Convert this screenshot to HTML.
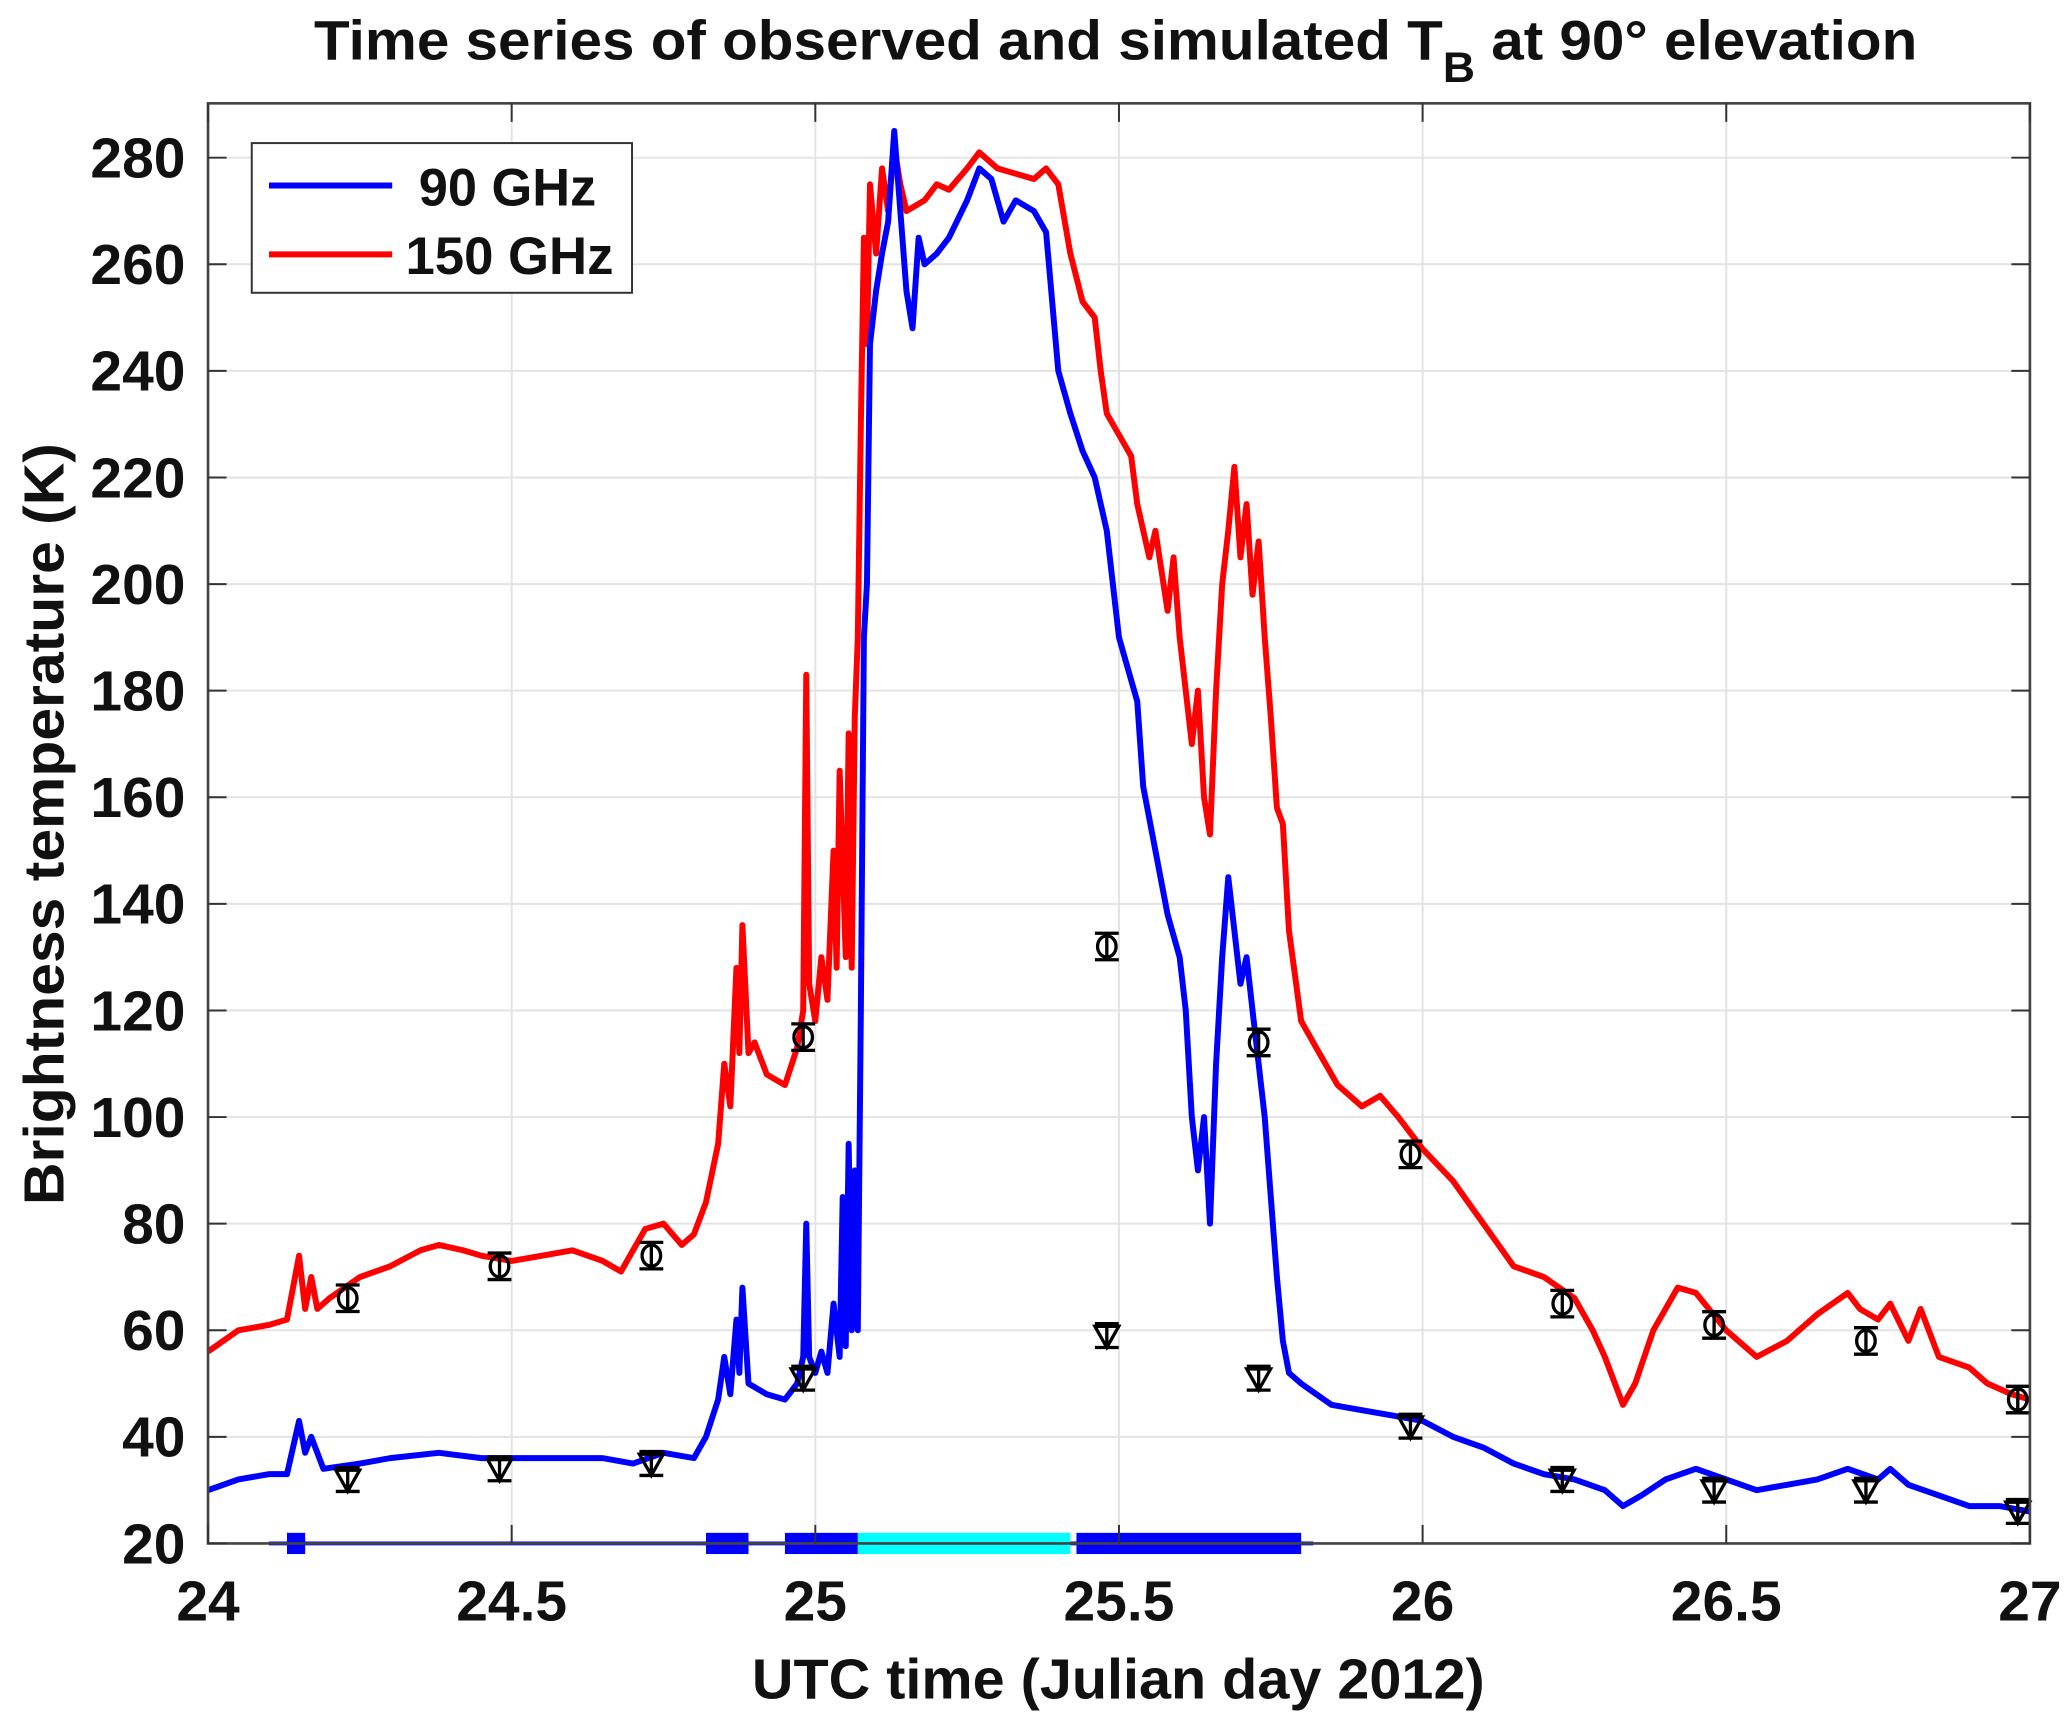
<!DOCTYPE html>
<html><head><meta charset="utf-8"><style>
html,body{margin:0;padding:0;background:#fff;}
svg{display:block;}
text{font-family:"Liberation Sans",Arial,sans-serif;font-weight:bold;fill:#111;}
</style></head><body>
<svg id="chart" width="2067" height="1717" viewBox="0 0 1560 1296" preserveAspectRatio="none" xmlns="http://www.w3.org/2000/svg">
<g id="grid"></g>
<g id="bars"></g>
<g id="lines"></g>
<g id="markers"></g>
<rect x="157" y="78" width="1375" height="1087" fill="none" stroke="#444" stroke-width="2"/>
<g id="ticks"></g>
<text x="842" y="45" text-anchor="middle" font-size="42" textLength="1210" lengthAdjust="spacingAndGlyphs">Time series of observed and simulated T<tspan font-size="32" dy="17">B</tspan><tspan dy="-17"> at 90° elevation</tspan></text>
<text x="844" y="1282" text-anchor="middle" font-size="43" textLength="553" lengthAdjust="spacingAndGlyphs">UTC time (Julian day 2012)</text>
<text transform="translate(48,622) rotate(-90)" text-anchor="middle" font-size="43" textLength="575" lengthAdjust="spacingAndGlyphs">Brightness  temperature (K)</text>
<g>
<rect x="190" y="108" width="287" height="113" fill="#fff" stroke="#333" stroke-width="1.5"/>
<line x1="203" y1="140" x2="296" y2="140" stroke="#0000ff" stroke-width="4.5"/>
<text x="316" y="155" font-size="40" textLength="134" lengthAdjust="spacingAndGlyphs">90 GHz</text>
<line x1="203" y1="192" x2="296" y2="192" stroke="#ff0000" stroke-width="4.5"/>
<text x="306" y="207" font-size="40" textLength="157" lengthAdjust="spacingAndGlyphs">150 GHz</text>
</g>
</svg>
<script>
const xTicks=[24,24.5,25,25.5,26,26.5,27];
const xTickLabels=["24","24.5","25","25.5","26","26.5","27"];
const yTicks=[20,40,60,80,100,120,140,160,180,200,220,240,260,280];
const t150=[24.00,24.05,24.10,24.13,24.15,24.16,24.17,24.18,24.2,24.25,24.3,24.35,24.38,24.42,24.45,24.5,24.55,24.6,24.65,24.68,24.7,24.72,24.75,24.78,24.8,24.82,24.84,24.85,24.86,24.87,24.875,24.88,24.89,24.9,24.92,24.95,24.97,24.98,24.985,24.99,25.0,25.01,25.02,25.03,25.035,25.04,25.05,25.055,25.06,25.065,25.07,25.075,25.08,25.085,25.09,25.10,25.11,25.12,25.13,25.14,25.15,25.18,25.2,25.22,25.25,25.27,25.3,25.33,25.36,25.38,25.4,25.42,25.44,25.46,25.47,25.48,25.5,25.52,25.53,25.55,25.56,25.58,25.59,25.6,25.62,25.63,25.64,25.65,25.66,25.67,25.68,25.69,25.7,25.71,25.72,25.73,25.74,25.75,25.76,25.77,25.78,25.8,25.83,25.86,25.9,25.93,25.96,26.0,26.05,26.1,26.15,26.2,26.25,26.28,26.3,26.33,26.35,26.38,26.42,26.45,26.5,26.55,26.6,26.65,26.7,26.72,26.75,26.77,26.8,26.82,26.85,26.9,26.93,26.97,27.0];
const v150=[56,60,61,62,74,64,70,64,66,70,72,75,76,75,74,73,74,75,73,71,75,79,80,76,78,84,95,110,102,128,112,136,112,114,108,106,113,120,183,125,118,130,122,150,128,165,130,172,128,175,190,230,265,245,275,262,278,270,282,275,270,272,275,274,278,281,278,277,276,278,275,262,253,250,240,232,228,224,215,205,210,195,205,190,170,180,160,153,180,200,210,222,205,215,198,208,190,175,158,155,135,118,112,106,102,104,100,94,88,80,72,70,66,60,55,46,50,60,68,67,60,55,58,63,67,64,62,65,58,64,55,53,50,48,47];
const t90=[24.00,24.05,24.10,24.13,24.15,24.16,24.17,24.19,24.25,24.3,24.38,24.45,24.55,24.65,24.7,24.75,24.8,24.82,24.84,24.85,24.86,24.87,24.875,24.88,24.89,24.92,24.95,24.97,24.98,24.985,24.99,25.0,25.01,25.02,25.03,25.04,25.045,25.05,25.055,25.06,25.065,25.07,25.075,25.08,25.085,25.09,25.1,25.11,25.12,25.13,25.14,25.15,25.16,25.17,25.18,25.2,25.22,25.25,25.27,25.29,25.31,25.33,25.36,25.38,25.4,25.42,25.44,25.46,25.48,25.5,25.52,25.53,25.54,25.56,25.58,25.6,25.61,25.62,25.63,25.64,25.65,25.66,25.67,25.68,25.69,25.7,25.71,25.72,25.73,25.74,25.75,25.76,25.77,25.78,25.8,25.85,25.9,25.95,26.0,26.05,26.1,26.15,26.2,26.25,26.3,26.33,26.36,26.4,26.45,26.5,26.55,26.6,26.65,26.7,26.75,26.77,26.8,26.85,26.9,26.95,27.0];
const v90=[30,32,33,33,43,37,40,34,35,36,37,36,36,36,35,37,36,40,47,55,48,62,52,68,50,48,47,50,55,80,55,52,56,52,65,55,85,57,95,60,90,60,120,190,200,245,255,262,268,285,270,255,248,265,260,262,265,272,278,276,268,272,270,266,240,232,225,220,210,190,182,178,162,150,138,130,120,100,90,100,80,110,130,145,135,125,130,120,110,100,85,70,58,52,50,46,45,44,43,40,38,35,33,32,30,27,29,32,34,32,30,31,32,34,32,34,31,29,27,27,26];
const obsTimes=[24.23,24.48,24.73,24.98,25.48,25.73,25.98,26.23,26.48,26.73,26.98];
const obs150=[66,72,74,115,132,114,93,65,61,58,47];
const obs90=[32,34,35,51,59,51,42,32,30,30,26];
const flagStart=[24.13,24.82,24.95,25.07,25.43];
const flagEnd=[24.16,24.89,25.07,25.42,25.80];
const flagKind=["blue","blue","blue","cyan","blue"];

const NS="http://www.w3.org/2000/svg";
const X0=157,X1=1532,Y20=1165,PXU=4.023;
const xs=t=>X0+(t-24)/3*(X1-X0);
const ys=v=>Y20-(v-20)*PXU;
function mk(tag,attrs,parent){const e=document.createElementNS(NS,tag);for(const k in attrs)e.setAttribute(k,attrs[k]);parent.appendChild(e);return e;}
const grid=document.getElementById('grid'),ticks=document.getElementById('ticks');
xTicks.forEach((t,i)=>{
  const g=mk('line',{x1:xs(t),x2:xs(t),y1:78,y2:1165,stroke:'#e3e3e3','stroke-width':1.5},grid);
  
  
  const a=mk('line',{x1:xs(t),x2:xs(t),y1:1165,y2:1151,stroke:'#333','stroke-width':1.5},ticks);
  
  
  const b=mk('line',{x1:xs(t),x2:xs(t),y1:78,y2:92,stroke:'#333','stroke-width':1.5},ticks);
  
  
  const l=mk('text',{x:xs(t),y:1223,'text-anchor':'middle','font-size':43},ticks);
  l.textContent=xTickLabels[i];
  
  
});
yTicks.forEach(v=>{
  const g=mk('line',{x1:157,x2:1532,y1:ys(v),y2:ys(v),stroke:'#e3e3e3','stroke-width':1.5},grid);
  
  
  const a=mk('line',{x1:157,x2:171,y1:ys(v),y2:ys(v),stroke:'#333','stroke-width':1.5},ticks);
  
  
  const b=mk('line',{x1:1518,x2:1532,y1:ys(v),y2:ys(v),stroke:'#333','stroke-width':1.5},ticks);
  
  
  const l=mk('text',{x:140,y:ys(v)+15,'text-anchor':'end','font-size':43},ticks);
  l.textContent=String(v);
  
  
});
const lines=document.getElementById('lines');
function series(ts,vs,col,name){
  const d=ts.map((t,i)=>(i?'L':'M')+xs(t).toFixed(1)+','+ys(vs[i]).toFixed(1)).join('');
  const p=mk('path',{d:d,fill:'none',stroke:col,'stroke-width':4.5,'stroke-linejoin':'round'},lines);
  
  
}
series(t150,v150,'#ff0000','line-150ghz');
series(t90,v90,'#0000ff','line-90ghz');
const bars=document.getElementById('bars');
const base=mk('line',{x1:xs(24.10),x2:xs(25.82),y1:Y20,y2:Y20,stroke:'#0000ff','stroke-width':3},bars);


flagStart.forEach((s,i)=>{
  const r=mk('rect',{x:xs(s),y:Y20-8,width:xs(flagEnd[i])-xs(s),height:16,fill:flagKind[i]==='cyan'?'#00ffff':'#0000ff'},bars);
  
  
});
const mg=document.getElementById('markers');
obsTimes.forEach((t,i)=>{
  const x=xs(t),yc=ys(obs150[i]),yt=ys(obs90[i]);
  const c=mk('ellipse',{cx:x,cy:yc,rx:7,ry:8,fill:'none',stroke:'#000','stroke-width':2.5},mg);
  
  
  const e=mk('path',{d:`M${x-9},${yc-10}H${x+9}M${x-9},${yc+10}H${x+9}M${x},${yc-10}V${yc+10}`,stroke:'#000','stroke-width':2.5,fill:'none'},mg);
  
  
  const tr=mk('path',{d:`M${x-9},${yt-7}L${x+9},${yt-7}L${x},${yt+9}Z`,fill:'none',stroke:'#000','stroke-width':2.5},mg);
  
  
  const e2=mk('path',{d:`M${x-9},${yt-9}H${x+9}M${x-9},${yt+9}H${x+9}M${x},${yt-9}V${yt+9}`,stroke:'#000','stroke-width':2.5,fill:'none'},mg);
  
  
});
</script>
</body></html>
